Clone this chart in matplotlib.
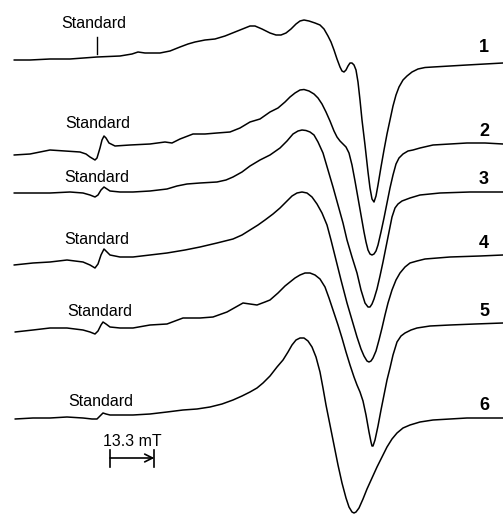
import matplotlib.pyplot as plt

# EPR spectra 1-6: (field in mT from sweep start, signal in arb. units relative to
# the right-hand baseline of each trace)
trace_1 = [(0.0, 3), (4.8, 3), (10.8, 4), (16.8, 4), (24.9, 6), (31.8, 7), (35.4, 9), (37.2, 11),
           (39.3, 10), (43.8, 10), (46.8, 12), (49.8, 16), (52.2, 19), (54.3, 21), (57.3, 23),
           (60.3, 24), (63.3, 27), (66.3, 31), (69.3, 35), (70.8, 37), (72.3, 37), (74.4, 34),
           (76.8, 30), (78.6, 28), (80.1, 28), (81.6, 30), (83.1, 34), (84.6, 39), (85.8, 42),
           (87.0, 43), (88.5, 42), (90.3, 40), (91.8, 38), (93.0, 34), (94.2, 27), (95.1, 21),
           (96.0, 13), (96.9, 4), (97.8, -4), (98.4, -8), (99.0, -9), (99.6, -7), (100.2, -3),
           (100.8, 0), (101.4, 0), (102.0, -2), (102.6, -7), (103.2, -19), (103.8, -37),
           (104.4, -57), (105.3, -82), (106.2, -109), (106.8, -125), (107.4, -136), (108.0, -139),
           (108.6, -133), (109.2, -122), (110.1, -104), (111.0, -87), (111.9, -71), (112.8, -57),
           (113.7, -43), (114.6, -32), (115.5, -24), (116.7, -17), (117.9, -13), (119.4, -9),
           (121.2, -6), (123.3, -4.5), (125.7, -4), (130.8, -3), (135.9, -2), (141.3, -1),
           (146.7, 0)]

trace_2 = [(0.0, -11), (4.8, -10), (7.8, -8), (10.8, -6), (15.3, -7), (19.8, -8), (21.6, -10),
           (22.8, -13), (24.3, -16), (24.9, -14), (25.8, -4), (26.4, 4), (27.0, 8), (27.6, 6),
           (28.5, 1), (30.3, -2), (34.8, -1), (40.8, 0), (45.3, 2), (47.4, 1), (49.8, 5),
           (53.7, 10), (57.3, 10), (60.9, 11), (64.8, 12), (67.8, 16), (70.8, 22), (73.8, 25),
           (76.8, 32), (79.2, 36), (81.3, 42), (82.8, 47), (84.3, 51), (85.8, 54), (87.0, 54.5),
           (88.5, 53), (90.0, 50), (91.2, 46), (92.4, 40), (93.6, 32), (94.8, 23), (96.0, 13),
           (96.9, 7), (97.8, 3), (98.7, 0), (99.6, -3), (100.5, -9), (101.4, -21), (102.3, -37),
           (103.2, -54), (104.1, -71), (105.0, -88), (105.6, -98), (106.2, -106), (106.8, -110),
           (107.4, -111), (108.0, -110), (108.6, -107), (109.2, -101), (110.1, -88), (111.0, -74),
           (111.9, -59), (112.8, -44), (113.7, -31), (114.6, -20), (115.5, -14), (116.7, -10),
           (118.2, -7), (119.7, -6), (121.8, -4), (125.7, -1), (130.8, 0), (135.9, 1),
           (141.3, 1), (146.7, 0)]

trace_3 = [(0.0, -1), (4.8, -1), (10.8, -1), (16.8, 0), (20.7, -1), (22.8, -3), (24.3, -5),
           (25.2, -3), (26.1, 2), (27.0, 5), (27.9, 3), (28.8, 1), (31.8, 0), (35.7, 0),
           (40.8, 1), (45.9, 3), (48.9, 6), (51.9, 8), (55.8, 9), (60.9, 10), (63.6, 12),
           (65.7, 15), (68.4, 20), (70.8, 26), (73.8, 32), (76.8, 37), (79.8, 44), (81.9, 51),
           (83.7, 58), (85.2, 61), (86.4, 62), (87.6, 61.5), (88.8, 60), (90.0, 57), (91.2, 50),
           (92.7, 39), (94.2, 22), (95.7, 5), (97.2, -13), (98.7, -31), (99.9, -48), (101.4, -65),
           (102.9, -81), (104.1, -98), (105.3, -111), (106.2, -115), (106.8, -115), (107.4, -112),
           (108.0, -107), (108.9, -97), (109.8, -84), (110.7, -70), (111.6, -55), (112.5, -40),
           (113.4, -25), (114.3, -16), (115.2, -12), (116.4, -9), (118.8, -6), (121.8, -3),
           (127.8, -1), (136.8, 0), (146.7, 0)]

trace_4 = [(0.0, -10), (5.7, -8), (10.8, -7), (15.9, -5), (20.7, -7), (22.8, -10), (24.3, -13),
           (25.2, -9), (26.1, 0), (27.0, 6), (27.9, 3), (28.8, 0), (31.8, -2), (35.7, -2),
           (40.8, 0), (45.9, 2), (51.3, 5), (55.8, 8), (60.9, 12), (65.7, 16), (68.4, 20),
           (70.8, 25), (73.2, 30), (75.3, 35), (77.7, 41), (79.8, 47), (81.6, 53), (83.4, 59),
           (84.9, 62), (86.4, 63), (87.9, 62), (89.4, 58), (90.9, 51), (92.4, 42), (93.9, 30),
           (95.1, 15), (96.0, 3), (96.9, -9), (98.1, -25), (99.9, -48), (101.4, -65), (102.9, -82),
           (104.1, -94), (105.0, -101), (105.9, -106), (106.5, -107), (107.1, -106), (107.7, -103),
           (108.6, -96), (109.5, -85), (110.4, -73), (111.3, -60), (112.2, -48), (113.4, -35),
           (114.6, -25), (115.8, -18), (117.3, -12), (118.8, -8), (120.9, -6), (123.3, -4),
           (130.8, -2), (139.8, -1), (146.7, 0)]

trace_5 = [(0.3, -9), (5.7, -7), (10.8, -5), (15.9, -5), (20.7, -7), (22.8, -9), (24.3, -11),
           (25.2, -8), (26.1, -2), (26.7, 1), (27.6, -1), (28.8, -4), (31.8, -5), (35.7, -5),
           (40.8, -2), (45.9, -1), (50.7, 5), (55.8, 5), (59.7, 6), (63.9, 11), (68.7, 20),
           (70.8, 19), (72.9, 18), (75.3, 21), (76.8, 23), (79.2, 30), (81.3, 37), (82.8, 41),
           (84.3, 45), (85.8, 48), (87.3, 50), (88.8, 50), (90.3, 48), (91.8, 44), (93.3, 36),
           (94.5, 25), (95.7, 13), (97.2, -2), (98.4, -15), (99.6, -29), (100.8, -42), (102.0, -54),
           (102.9, -62), (103.8, -69), (104.7, -78), (105.6, -92), (106.5, -109), (107.1, -119),
           (107.4, -123), (107.7, -123), (108.3, -117), (109.2, -103), (110.1, -87), (111.0, -72),
           (111.9, -57), (112.8, -45), (113.7, -32), (114.9, -19), (116.1, -13), (117.3, -10),
           (119.1, -7), (120.9, -5), (124.8, -3), (130.8, -2), (138.3, -1), (146.7, 0)]

trace_6 = [(0.3, -1), (5.7, 0), (10.8, 0), (15.9, 1), (20.7, 0), (23.4, -1), (24.9, -1),
           (25.8, 2), (26.7, 5), (27.6, 4), (28.8, 3), (35.7, 3), (40.8, 4), (45.9, 6),
           (50.7, 8), (54.9, 9), (58.8, 11), (62.4, 14), (65.7, 18), (68.4, 22), (70.8, 26),
           (72.9, 30), (74.7, 35), (76.8, 42), (78.9, 51), (80.7, 58), (82.2, 66), (83.4, 73),
           (84.6, 78), (85.8, 80), (87.0, 80), (88.2, 77), (89.4, 71), (90.6, 61), (91.8, 46),
           (92.7, 30), (93.6, 13), (94.8, -7), (96.0, -27), (97.2, -47), (98.4, -65), (99.6, -80),
           (100.5, -89), (101.4, -94), (102.0, -95), (102.6, -94), (103.5, -90), (104.7, -81),
           (105.9, -71), (107.4, -60), (108.9, -49), (110.4, -39), (111.9, -29), (113.4, -21),
           (114.9, -15), (116.7, -10), (118.8, -7), (121.8, -4), (125.7, -2), (130.8, -1),
           (135.9, 0), (146.7, 0)]

traces = [trace_1, trace_2, trace_3, trace_4, trace_5, trace_6]
trace_labels = ['1', '2', '3', '4', '5', '6']
offsets = [-63, -144, -192, -255, -323, -418]
scale_bar = 13.3  # mT

fig = plt.figure(figsize=(5.03, 5.14), dpi=100)
ax = fig.add_axes([0, 0, 1, 1])
ax.set_xlim(-4.2, 146.7)
ax.set_ylim(-514, 0)
ax.axis('off')

# where the "Standard" captions and trace numbers sit
std_pos = [(24.0, -24), (25.2, -124), (24.9, -177), (24.9, -240), (25.6, -311), (26.1, -401)]
num_y = [-47, -132, -180, -243, -312, -405]

for tr, off, lab, sp, ny in zip(traces, offsets, trace_labels, std_pos, num_y):
    b = [p[0] for p in tr]
    s = [off + p[1] for p in tr]
    ax.plot(b, s, color='black', lw=1.1, solid_joinstyle='round', solid_capstyle='round')
    ax.text(sp[0], sp[1], 'Standard', ha='center', va='center',
            fontsize=11.5, family='Liberation Sans')
    ax.text(141.0, ny, lab, ha='center', va='center', fontsize=13,
            fontweight='bold', family='Liberation Sans')

# marker for the standard's position on the first spectrum
ax.plot([24.9, 24.9], [-37, -54], color='black', lw=1.0)

# field scale bar
x0, yb = 28.8, -458
ax.annotate('', xy=(x0 + scale_bar, yb), xytext=(x0, yb),
            arrowprops=dict(arrowstyle='->', color='black', lw=1.2,
                            shrinkA=0, shrinkB=0, mutation_scale=14))
ax.plot([x0, x0], [yb - 9, yb + 8], color='black', lw=1.2)
ax.plot([x0 + scale_bar, x0 + scale_bar], [yb - 9, yb + 8], color='black', lw=1.2)
ax.text(x0 + scale_bar / 2, -441, f'{scale_bar} mT', ha='center', va='center',
        fontsize=11.5, family='Liberation Sans')

fig.savefig('out.png', dpi=100)
